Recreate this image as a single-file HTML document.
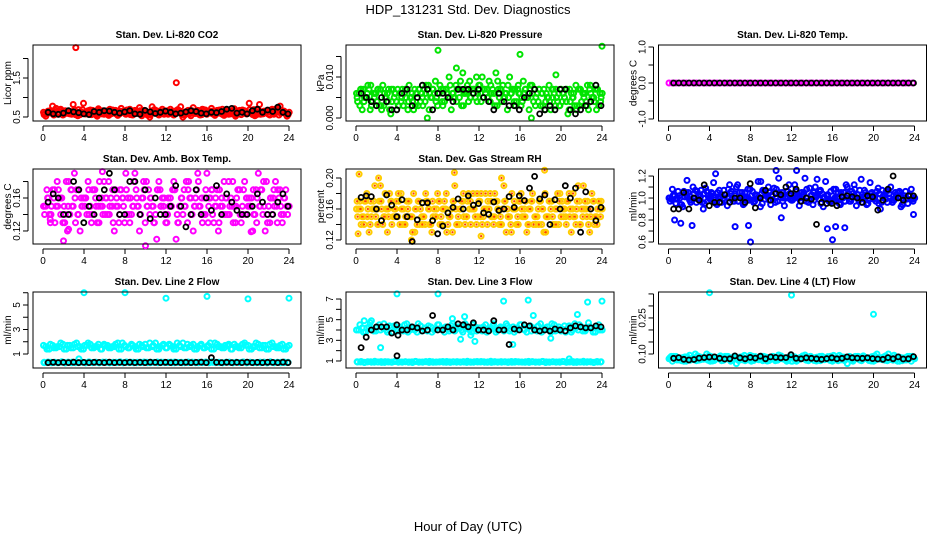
<!DOCTYPE html>
<html><head><meta charset="utf-8"><title>HDP_131231 Std. Dev. Diagnostics</title>
<style>
html,body{margin:0;padding:0;background:#fff;}
svg{display:block;font-family:"Liberation Sans",Arial,sans-serif;}
</style></head>
<body>
<svg id="chart" width="936" height="540" viewBox="0 0 936 540" xmlns="http://www.w3.org/2000/svg">
<text x="468" y="14" text-anchor="middle" font-size="13">HDP_131231  Std. Dev. Diagnostics</text>
<text x="468" y="531" text-anchor="middle" font-size="13">Hour of Day (UTC)</text>
</svg>
<script>
// ---- data ----
const xTicks=[0,4,8,12,16,20,24];
// P1 CO2
const co2A=[0.62,0.58,0.66,0.55,0.61,0.70,0.57,0.64,0.59,0.68,0.53,0.63,0.60,0.66,0.56,0.62,0.71,0.58,0.65,0.54,0.61,0.67,0.59,0.63,0.57,0.69,0.55,0.62,0.74,0.58,0.64,0.50,0.61,0.66,0.57,0.63,0.59,0.70,0.55,0.62,0.76,0.58,0.65,0.53,0.61,0.67,0.56,0.63,0.60,0.72,0.54,0.62,0.58,0.66,0.57,0.63,0.52,0.61,0.68,0.59,0.85,0.56,0.62,0.82,0.58,0.65,0.55,0.61,0.72,0.78,0.63,0.52];
const co2B=[0.58,0.65,0.60,0.68,0.57,0.63,0.66,0.59,0.64,0.56,0.62,0.69,0.58,0.61,0.67,0.55,0.63,0.66,0.58,0.70,0.60,0.57,0.65,0.61,0.68,0.56,0.64,0.59,0.62,0.67,0.55,0.63,0.69,0.58,0.61,0.66,0.57,0.64,0.60,0.68,0.56,0.62,0.59,0.66,0.63,0.57,0.70,0.60,0.65,0.58,0.62,0.68,0.56,0.64,0.61,0.67,0.59,0.63,0.66,0.58,0.62,0.69,0.60,0.57,0.65,0.62,0.68,0.59,0.63,0.66,0.60,0.56];
const co2Blk=[0.62,0.58,0.57,0.60,0.66,0.63,0.61,0.58,0.56,0.64,0.62,0.66,0.65,0.62,0.60,0.63,0.66,0.58,0.57,0.67,0.63,0.59,0.62,0.65,0.62,0.58,0.60,0.63,0.66,0.64,0.60,0.58,0.62,0.61,0.64,0.70,0.72,0.60,0.62,0.58,0.66,0.70,0.62,0.68,0.64,0.75,0.62,0.58];
const co2OutH=[3.2,13.0];
const co2OutV=[2.28,1.38];
const co2Ticks=[0.5,1.0,1.5,2.0];
const co2Labels=["0.5","","1.5",""];
// P2 pressure
const prsA=[0.006,0.003,0.007,0.005,0.002,0.006,0.004,0.007,0.003,0.006,0.001,0.005,0.007,0.004,0.006,0.002,0.005,0.007,0.003,0.006,0.004,0.008,0.005,0.009,0.006,0.004,0.007,0.010,0.006,0.008,0.005,0.011,0.007,0.009,0.006,0.010,0.008,0.005,0.007,0.004,0.006,0.003,0.007,0.005,0.002,0.006,0.004,0.007,0.003,0.006,0.005,0.000,0.007,0.004,0.006,0.002,0.005,0.007,0.003,0.006,0.004,0.007,0.002,0.005,0.008,0.003,0.006,0.004,0.007,0.005,0.002,0.006];
const prsB=[0.004,0.007,0.005,0.008,0.003,0.006,0.007,0.002,0.005,0.007,0.004,0.006,0.003,0.007,0.005,0.008,0.004,0.006,0.007,0.003,0.008,0.006,0.007,0.005,0.008,0.007,0.006,0.008,0.005,0.007,0.009,0.006,0.008,0.005,0.007,0.006,0.004,0.007,0.005,0.006,0.003,0.007,0.004,0.006,0.005,0.007,0.003,0.006,0.004,0.007,0.002,0.006,0.005,0.007,0.003,0.006,0.004,0.007,0.005,0.003,0.006,0.007,0.004,0.006,0.003,0.007,0.005,0.008,0.006,0.004,0.007,0.005];
const prsBlk=[0.006,0.005,0.004,0.003,0.005,0.004,0.002,0.002,0.006,0.007,0.003,0.005,0.008,0.007,0.002,0.006,0.006,0.005,0.004,0.007,0.007,0.007,0.006,0.007,0.005,0.004,0.002,0.006,0.004,0.003,0.003,0.002,0.005,0.006,0.007,0.001,0.002,0.003,0.002,0.007,0.007,0.002,0.001,0.002,0.003,0.004,0.008,0.003];
const prsOutH=[8.0,9.8,16.0,19.5,24.0];
const prsOutV=[0.0165,0.0122,0.0155,0.0105,0.0175];
const prsTicks=[0,0.005,0.010,0.015];
const prsLabels=["0.000","","0.010",""];
// P3 temp
const tmpA=[0,0,0,0,0,0,0,0,0,0,0,0,0,0,0,0,0,0,0,0,0,0,0,0,0,0,0,0,0,0,0,0,0,0,0,0,0,0,0,0,0,0,0,0,0,0,0,0,0,0,0,0,0,0,0,0,0,0,0,0,0,0,0,0,0,0,0,0,0,0,0,0];
const tmpBlk=[0,0,0,0,0,0,0,0,0,0,0,0,0,0,0,0,0,0,0,0,0,0,0,0,0,0,0,0,0,0,0,0,0,0,0,0,0,0,0,0,0,0,0,0,0,0,0,0];
const tmpTicks=[-1,-0.5,0,0.5,1];
const tmpLabels=["-1.0","","0.0","","1.0"];
// P4 amb box temp
const ambA=[0.15,0.17,0.13,0.16,0.18,0.14,0.15,0.12,0.17,0.19,0.14,0.16,0.15,0.18,0.13,0.17,0.15,0.16,0.14,0.18,0.15,0.17,0.13,0.16,0.19,0.14,0.15,0.17,0.12,0.16,0.18,0.14,0.15,0.11,0.17,0.15,0.13,0.16,0.18,0.14,0.15,0.17,0.13,0.16,0.15,0.19,0.14,0.16,0.13,0.17,0.15,0.12,0.16,0.14,0.18,0.15,0.13,0.17,0.15,0.14,0.16,0.12,0.17,0.15,0.14,0.18,0.13,0.16,0.15,0.17,0.14,0.15];
const ambB=[0.14,0.16,0.15,0.13,0.17,0.16,0.14,0.18,0.15,0.13,0.17,0.15,0.16,0.14,0.17,0.15,0.18,0.14,0.16,0.15,0.13,0.16,0.17,0.15,0.14,0.16,0.18,0.15,0.14,0.17,0.15,0.16,0.13,0.17,0.15,0.14,0.16,0.15,0.17,0.13,0.16,0.15,0.18,0.14,0.16,0.15,0.13,0.17,0.16,0.14,0.15,0.17,0.14,0.16,0.15,0.13,0.16,0.14,0.17,0.16,0.15,0.14,0.16,0.17,0.15,0.13,0.16,0.15,0.17,0.14,0.16,0.15];
const ambBlk=[0.155,0.165,0.16,0.14,0.14,0.18,0.17,0.13,0.15,0.14,0.16,0.17,0.19,0.17,0.14,0.14,0.18,0.18,0.14,0.17,0.135,0.16,0.14,0.14,0.15,0.175,0.15,0.125,0.14,0.17,0.14,0.16,0.145,0.175,0.14,0.165,0.155,0.145,0.14,0.14,0.15,0.165,0.155,0.14,0.14,0.155,0.165,0.15];
const ambOutH=[2.0,2.5,10.0,20.3,0.7,5.8];
const ambOutV=[0.108,0.122,0.102,0.119,0.134,0.192];
const ambTicks=[0.12,0.14,0.16,0.18];
const ambLabels=["0.12","","0.16",""];
// P5 RH
const rhA=[0.16,0.17,0.15,0.18,0.14,0.17,0.16,0.19,0.15,0.13,0.17,0.16,0.15,0.18,0.14,0.16,0.15,0.13,0.17,0.15,0.14,0.16,0.13,0.15,0.17,0.14,0.16,0.15,0.13,0.16,0.14,0.17,0.15,0.16,0.18,0.14,0.17,0.15,0.16,0.18,0.14,0.17,0.15,0.19,0.16,0.14,0.17,0.15,0.18,0.16,0.14,0.17,0.15,0.16,0.14,0.18,0.15,0.17,0.16,0.14,0.17,0.15,0.18,0.16,0.14,0.17,0.15,0.16,0.13,0.17,0.15,0.16];
const rhB=[0.15,0.14,0.17,0.16,0.15,0.19,0.14,0.16,0.18,0.15,0.14,0.16,0.17,0.14,0.15,0.17,0.13,0.16,0.14,0.15,0.17,0.14,0.15,0.16,0.14,0.16,0.13,0.15,0.17,0.14,0.16,0.15,0.17,0.14,0.16,0.15,0.18,0.16,0.17,0.15,0.18,0.16,0.14,0.17,0.15,0.18,0.16,0.17,0.15,0.17,0.16,0.18,0.14,0.17,0.16,0.15,0.17,0.14,0.16,0.18,0.15,0.17,0.16,0.15,0.17,0.14,0.16,0.17,0.15,0.14,0.16,0.17];
const rhBlk=[0.175,0.177,0.176,0.16,0.145,0.178,0.165,0.15,0.172,0.15,0.118,0.146,0.168,0.168,0.145,0.128,0.138,0.155,0.162,0.173,0.16,0.177,0.165,0.167,0.155,0.153,0.169,0.158,0.16,0.176,0.162,0.177,0.171,0.187,0.202,0.173,0.178,0.14,0.172,0.16,0.19,0.174,0.187,0.13,0.182,0.16,0.145,0.162];
const rhOutH=[0.3,2.2,9.6,14.2,18.4,5.4,12.2,0.2];
const rhOutV=[0.205,0.2,0.207,0.2,0.21,0.12,0.125,0.128];
const rhTicks=[0.12,0.14,0.16,0.18,0.20];
const rhLabels=["0.12","","0.16","","0.20"];
// P6 sample flow
const sfA=[1.0,1.08,0.95,1.02,0.92,1.05,0.98,1.1,0.96,1.03,0.9,1.06,0.99,1.14,0.94,1.01,1.07,0.93,1.04,0.97,1.12,1.0,0.95,1.08,1.02,0.97,1.15,1.04,0.99,1.1,1.03,0.96,1.18,1.05,1.0,1.12,0.98,1.06,0.93,1.03,0.97,1.09,0.94,1.01,1.06,0.92,1.02,0.96,1.08,1.0,0.94,1.05,1.1,0.97,1.12,1.03,0.99,1.07,0.95,1.04,1.0,1.09,0.96,1.03,1.07,0.98,1.05,1.01,0.94,1.06,1.02,0.99];
const sfB=[0.97,1.03,1.0,0.94,1.06,1.01,0.96,1.04,0.99,1.07,0.95,1.02,1.05,0.98,1.01,0.96,1.03,1.08,0.99,1.02,0.97,1.05,1.01,0.98,1.06,1.03,1.0,1.07,1.02,1.05,0.98,1.08,1.03,1.0,1.06,0.99,1.04,1.01,0.97,1.05,1.0,1.02,0.98,1.04,0.95,1.01,1.03,0.98,1.0,1.05,1.02,0.97,1.04,1.06,1.01,0.98,1.03,1.05,1.0,1.02,0.97,1.04,1.01,1.06,1.0,0.98,1.03,1.05,1.0,0.99,1.02,1.0];
const sfBlk=[0.9,0.9,1.05,0.9,1.0,0.98,1.12,0.93,0.96,0.96,1.03,0.96,1.0,1.0,0.96,1.13,0.91,1.0,1.07,0.98,1.04,1.03,1.1,1.04,1.08,0.97,1.0,0.99,0.76,0.96,0.95,0.95,0.93,1.01,1.02,1.01,1.0,0.96,1.02,1.01,0.89,0.98,1.08,1.2,1.0,0.98,1.02,1.02];
const sfOutH=[0.6,1.2,2.3,4.6,6.5,7.8,8.0,10.5,11.0,12.5,15.5,16.0,16.3,17.2,23.9,1.8,9.0,14.5,18.8];
const sfOutV=[0.8,0.77,0.75,1.22,0.74,0.75,0.6,1.25,0.82,1.25,0.72,0.62,0.74,0.73,0.85,1.16,1.15,1.17,1.17];
const sfTicks=[0.6,0.7,0.8,0.9,1.0,1.1,1.2];
const sfLabels=["0.6","","0.8","","1.0","","1.2"];
// P7 line 2 flow
const l2A=[1.7,1.4,1.8,1.5,1.6,1.9,1.4,1.7,1.5,1.8,1.6,1.4,1.7,1.9,1.5,1.6,1.8,1.4,1.7,1.5,1.6,1.8,1.4,1.9,1.6,1.5,1.7,1.4,1.8,1.6,1.5,1.9,1.7,1.4,1.6,1.8,1.5,1.7,1.4,1.9,1.6,1.5,1.8,1.7,1.4,1.6,1.8,1.5,1.7,1.4,1.9,1.6,1.5,1.7,1.8,1.4,1.6,1.5,1.8,1.7,1.4,1.6,1.9,1.5,1.7,1.4,1.8,1.6,1.5,1.7,1.4,1.6];
const l2B=[0.3,0.35,0.28,0.32,0.3,0.36,0.27,0.31,0.34,0.29,0.3,0.33,0.28,0.35,0.3,0.32,0.29,0.34,0.31,0.28,0.33,0.3,0.36,0.29,0.31,0.34,0.28,0.32,0.3,0.35,0.29,0.33,0.31,0.28,0.34,0.3,0.32,0.29,0.35,0.31,0.28,0.33,0.3,0.34,0.29,0.32,0.3,0.35,0.28,0.31,0.33,0.3,0.29,0.34,0.31,0.28,0.32,0.3,0.35,0.29,0.33,0.3,0.31,0.28,0.34,0.3,0.32,0.29,0.31,0.33,0.3,0.32];
const l2Blk=[0.3,0.32,0.3,0.31,0.3,0.33,0.3,0.31,0.3,0.32,0.31,0.3,0.33,0.3,0.31,0.3,0.32,0.3,0.31,0.3,0.33,0.31,0.3,0.32,0.3,0.31,0.3,0.32,0.3,0.31,0.33,0.3,0.7,0.31,0.3,0.32,0.3,0.31,0.3,0.33,0.3,0.31,0.3,0.32,0.31,0.3,0.33,0.3];
const l2OutH=[4,8,12,16,20,24,3.5,0.1];
const l2OutV=[6.0,6.0,5.55,5.7,5.5,5.55,0.6,0.3];
const l2Ticks=[1,2,3,4,5,6];
const l2Labels=["1","","3","","5",""];
// P8 line 3 flow
const l3A=[4.0,4.5,3.8,4.2,4.7,3.9,4.3,4.0,4.6,3.8,4.2,4.4,3.9,4.1,4.5,3.8,4.3,4.0,4.6,3.9,4.2,4.4,3.8,4.1,4.5,4.0,4.3,3.9,4.6,4.1,4.2,3.8,4.4,4.0,4.5,3.9,4.2,4.3,3.8,4.1,4.6,4.0,4.3,3.9,4.4,4.1,3.8,4.2,4.5,4.0,4.3,3.9,4.1,4.4,3.8,4.2,4.0,4.6,3.9,4.3,4.1,3.8,4.4,4.0,4.2,4.5,3.9,4.1,4.3,3.8,4.2,4.0];
const l3B=[0.9,0.95,0.85,0.92,0.88,0.97,0.9,0.86,0.94,0.9,0.87,0.96,0.91,0.88,0.93,0.9,0.85,0.95,0.9,0.88,0.92,0.96,0.87,0.9,0.93,0.89,0.95,0.86,0.91,0.94,0.88,0.9,0.97,0.87,0.92,0.9,0.95,0.88,0.91,0.86,0.94,0.9,0.88,0.93,0.91,0.87,0.95,0.9,0.89,0.92,0.86,0.94,0.9,0.88,0.96,0.91,0.87,0.93,0.9,0.88,0.95,0.89,0.92,0.86,0.94,0.9,0.88,0.93,0.91,0.87,0.9,0.92];
const l3Blk=[2.3,3.3,4.0,4.3,4.3,4.3,3.7,4.5,4.0,4.0,4.3,4.2,3.9,4.0,5.4,4.0,4.0,4.3,4.0,4.6,4.5,4.3,4.7,4.0,4.0,3.9,4.9,4.0,4.0,2.6,4.1,4.0,4.5,4.4,4.0,3.9,4.0,3.9,4.1,4.0,3.9,4.2,4.4,4.3,4.2,4.2,4.4,4.3];
const l3BlkOutH=[4.0,4.1];
const l3BlkOutV=[1.5,3.5];
const l3OutH=[0.8,1.5,2.4,4,8,10.6,10.2,9.4,11.2,11.6,14.4,15.3,16.8,17.3,19,20.8,21.6,22.6,24];
const l3OutV=[4.9,4.9,2.3,7.5,7.5,5.3,3.1,5.1,3.5,2.9,6.8,2.6,6.9,5.4,3.2,1.2,5.5,6.7,6.8];
const l3Ticks=[1,2,3,4,5,6,7];
const l3Labels=["1","","3","","5","","7"];
// P9 line 4 flow
const l4A=[0.08,0.07,0.09,0.075,0.085,0.07,0.095,0.08,0.072,0.088,0.078,0.1,0.07,0.085,0.08,0.092,0.075,0.083,0.07,0.09,0.08,0.076,0.094,0.082,0.07,0.087,0.079,0.091,0.074,0.085,0.08,0.072,0.096,0.081,0.075,0.088,0.07,0.083,0.079,0.092,0.074,0.086,0.08,0.071,0.09,0.078,0.084,0.073,0.094,0.08,0.075,0.087,0.06,0.082,0.078,0.09,0.073,0.085,0.08,0.071,0.093,0.079,0.084,0.074,0.1,0.08,0.076,0.088,0.072,0.085,0.08,0.09];
const l4B=[0.085,0.09,0.075,0.082,0.07,0.088,0.08,0.076,0.092,0.08,0.085,0.074,0.089,0.078,0.083,0.072,0.09,0.081,0.077,0.086,0.073,0.088,0.08,0.075,0.091,0.079,0.084,0.072,0.087,0.08,0.09,0.076,0.083,0.079,0.07,0.088,0.081,0.074,0.086,0.08,0.078,0.09,0.073,0.085,0.08,0.076,0.089,0.08,0.083,0.072,0.088,0.079,0.085,0.074,0.09,0.08,0.077,0.086,0.073,0.088,0.08,0.084,0.076,0.09,0.08,0.074,0.086,0.079,0.083,0.077,0.088,0.082];
const l4Blk=[0.082,0.085,0.078,0.075,0.077,0.083,0.085,0.087,0.088,0.082,0.079,0.08,0.092,0.084,0.08,0.086,0.083,0.091,0.08,0.088,0.086,0.084,0.085,0.097,0.082,0.08,0.084,0.082,0.08,0.078,0.081,0.084,0.08,0.082,0.088,0.084,0.083,0.082,0.084,0.081,0.079,0.078,0.085,0.08,0.088,0.079,0.08,0.089];
const l4OutH=[4,12,20];
const l4OutV=[0.355,0.345,0.265];
const l4Ticks=[0.10,0.15,0.20,0.25,0.30,0.35];
const l4Labels=["0.10","","","0.25","",""];

// ---- layout ----
const NS="http://www.w3.org/2000/svg";
const svg=document.getElementById('chart');
const colX0=[43,356,668.5];
const rows=[{t:45,b:121},{t:169,b:244},{t:292,b:368}];
const XS=10.25;
const panels=[
 {key:'co2',title:'Stan. Dev. Li-820 CO2',ylab:'Licor ppm',c:0,r:0,ymin:0.397,ymax:2.346,color:'#ff0000',A:co2A,B:co2B,blk:co2Blk,oh:co2OutH,ov:co2OutV,ticks:co2Ticks,labels:co2Labels},
 {key:'pressure',title:'Stan. Dev. Li-820 Pressure',ylab:'kPa',c:1,r:0,ymin:-0.00073,ymax:0.0178,color:'#00e400',A:prsA,B:prsB,blk:prsBlk,oh:prsOutH,ov:prsOutV,ticks:prsTicks,labels:prsLabels},
 {key:'temp',title:'Stan. Dev. Li-820 Temp.',ylab:'degrees C',c:2,r:0,ymin:-1.056,ymax:1.056,color:'#ff00ff',A:tmpA,B:null,blk:tmpBlk,oh:[],ov:[],ticks:tmpTicks,labels:tmpLabels},
 {key:'ambbox',title:'Stan. Dev. Amb. Box Temp.',ylab:'degrees C',c:0,r:1,ymin:0.1042,ymax:0.1952,color:'#ff00ff',A:ambA,B:ambB,blk:ambBlk,oh:ambOutH,ov:ambOutV,ticks:ambTicks,labels:ambLabels},
 {key:'rh',title:'Stan. Dev. Gas Stream RH',ylab:'percent',c:1,r:1,ymin:0.1148,ymax:0.2116,color:'#ffcc00',inner:'#ff4000',A:rhA,B:rhB,blk:rhBlk,oh:rhOutH,ov:rhOutV,ticks:rhTicks,labels:rhLabels},
 {key:'sampleflow',title:'Stan. Dev. Sample Flow',ylab:'ml/min',c:2,r:1,ymin:0.582,ymax:1.264,color:'#0000ff',A:sfA,B:sfB,blk:sfBlk,oh:sfOutH,ov:sfOutV,ticks:sfTicks,labels:sfLabels},
 {key:'line2',title:'Stan. Dev. Line 2 Flow',ylab:'ml/min',c:0,r:2,ymin:-0.143,ymax:6.06,color:'#00ffff',A:l2A,B:l2B,blk:l2Blk,oh:l2OutH,ov:l2OutV,ticks:l2Ticks,labels:l2Labels},
 {key:'line3',title:'Stan. Dev. Line 3 Flow',ylab:'ml/min',c:1,r:2,ymin:0.32,ymax:7.68,color:'#00ffff',A:l3A,B:l3B,blk:l3Blk,oh:l3OutH,ov:l3OutV,bh:l3BlkOutH,bv:l3BlkOutV,ticks:l3Ticks,labels:l3Labels},
 {key:'line4',title:'Stan. Dev. Line 4 (LT) Flow',ylab:'ml/min',c:2,r:2,ymin:0.0417,ymax:0.358,color:'#00ffff',A:l4A,B:l4B,blk:l4Blk,oh:l4OutH,ov:l4OutV,ticks:l4Ticks,labels:l4Labels}
];
function mk(tag,attrs,parent){const e=document.createElementNS(NS,tag);for(const k in attrs)e.setAttribute(k,attrs[k]);(parent||svg).appendChild(e);return e;}
panels.forEach(p=>{
  const x0=colX0[p.c],top=rows[p.r].t,bot=rows[p.r].b,left=x0-10,right=x0+258;
  const xs=h=>x0+h*XS;
  const ys=v=>bot-(v-p.ymin)/(p.ymax-p.ymin)*(bot-top);
  const g=mk('g',{});
  
  
  const t=mk('text',{x:(left+right)/2,y:top-7,'text-anchor':'middle','font-size':'10','font-weight':'bold'},g);
  t.textContent=p.title;
  
  
  const yl=mk('text',{x:0,y:0,'text-anchor':'middle','font-size':'10',transform:`translate(${left-22},${(top+bot)/2}) rotate(-90)`},g);
  yl.textContent=p.ylab;
  
  
  const xa=mk('g',{},g);
  
  
  mk('line',{x1:xs(0),x2:xs(24),y1:bot+5,y2:bot+5,stroke:'#000','stroke-width':1},xa);
  xTicks.forEach(v=>{
    mk('line',{x1:xs(v),x2:xs(v),y1:bot+5,y2:bot+10,stroke:'#000','stroke-width':1},xa);
    const tl=mk('text',{x:xs(v),y:bot+20,'text-anchor':'middle','font-size':'10'},xa);
    tl.textContent=v;
    
    
  });
  const ya=mk('g',{},g);
  
  
  const tv=p.ticks;
  mk('line',{x1:left-5,x2:left-5,y1:ys(tv[0]),y2:ys(tv[tv.length-1]),stroke:'#000','stroke-width':1},ya);
  tv.forEach((v,i)=>{
    mk('line',{x1:left-10,x2:left-5,y1:ys(v),y2:ys(v),stroke:'#000','stroke-width':1},ya);
    if(p.labels[i]){
      const tl=mk('text',{x:0,y:0,'text-anchor':'middle','font-size':'10',transform:`translate(${left-13},${ys(v)}) rotate(-90)`},ya);
      tl.textContent=p.labels[i];
      
      
    }
  });
  const pts=mk('g',{},g);
  
  
  function dot(h,v,col,inner,nm,sw){
    const c=mk('circle',{cx:xs(h).toFixed(1),cy:ys(v).toFixed(1),r:2.5,fill:'none',stroke:col,'stroke-width':sw},pts);
    
    
    if(inner){mk('circle',{cx:xs(h).toFixed(1),cy:ys(v).toFixed(1),r:1.1,fill:inner},pts);}
  }
  const inner=p.inner||null;
  // dense cloud: each colored series drawn at its times, plus a reversed pass
  const passes=[];
  if(p.A)passes.push({arr:p.A,off:0,rev:false});
  if(p.B)passes.push({arr:p.B,off:0.11,rev:false});
  if(p.B)passes.push({arr:p.A,off:0.22,rev:true});
  if(p.B)passes.push({arr:p.B,off:0.06,rev:true});
  passes.forEach(ps=>{
    const n=ps.arr.length;
    ps.arr.forEach((v,i)=>{
      const idx=ps.rev?(n-1-i):i;
      dot(0.05+idx*23.75/(n-1)+ps.off,v,p.color,inner,p.key+'-point',2);
    });
  });
  p.oh.forEach((h,i)=>dot(h,p.ov[i],p.color,inner,p.key+'-outlier',2));
  p.blk.forEach((v,i)=>dot(0.5+i*23.4/(p.blk.length-1),v,'#000',null,p.key+'-mean-point',1.8));
  if(p.bh)p.bh.forEach((h,i)=>dot(h,p.bv[i],'#000',null,p.key+'-mean-outlier',1.8));
  const box=mk('rect',{x:left,y:top,width:right-left,height:bot-top,fill:'none',stroke:'#000','stroke-width':1},g);
  
  
});
</script>
</body></html>
